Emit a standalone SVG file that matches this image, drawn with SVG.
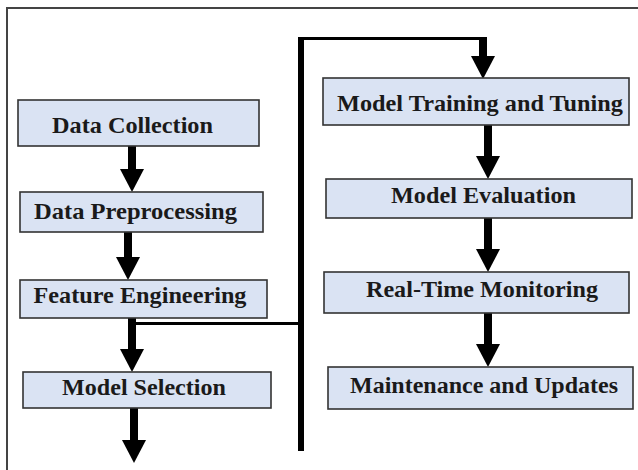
<svg xmlns="http://www.w3.org/2000/svg" width="638" height="470" viewBox="0 0 638 470">
<style>
.box{fill:#dae3f3;stroke:#333;stroke-width:1.6}
.lbl{font-family:"Liberation Serif","Times New Roman",serif;font-weight:bold;font-size:23.5px;fill:#1a1a1a;text-anchor:middle}
.shaft{stroke:#000;stroke-width:8;fill:none}
.wire{stroke:#000;fill:none}
.frame{stroke:#444;stroke-width:2;fill:none}
</style>
<defs>
<marker id="head" markerUnits="userSpaceOnUse" markerWidth="23" markerHeight="24" refX="0" refY="12" orient="auto" viewBox="0 0 23 24">
<path d="M0,0 L23,12 L0,24 Z" fill="#000"/>
</marker>
</defs>
<rect width="638" height="470" fill="#fff"/>
<path class="frame" d="M7,470 V8 H638"/>
<g id="connectors">
<line class="shaft" x1="132" y1="146" x2="132" y2="169" marker-end="url(#head)"/>
<line class="shaft" x1="128" y1="232" x2="128" y2="257" marker-end="url(#head)"/>
<line class="shaft" x1="132" y1="318" x2="132" y2="349" marker-end="url(#head)"/>
<line class="shaft" x1="134" y1="408" x2="134" y2="440" marker-end="url(#head)"/>
<line class="wire" stroke-width="3" x1="136" y1="323.5" x2="301" y2="323.5"/>
<line class="wire" stroke-width="6" x1="301" y1="37" x2="301" y2="451"/>
<line class="wire" stroke-width="3" x1="298" y1="38.5" x2="487" y2="38.5"/>
<line class="shaft" x1="483" y1="37" x2="483" y2="56" marker-end="url(#head)"/>
<line class="shaft" x1="488" y1="125" x2="488" y2="156" marker-end="url(#head)"/>
<line class="shaft" x1="488" y1="218" x2="488" y2="249" marker-end="url(#head)"/>
<line class="shaft" x1="488" y1="313" x2="488" y2="344" marker-end="url(#head)"/>
</g>
<g id="data-collection"><rect class="box" x="18" y="100" width="241" height="46"/><text class="lbl" x="132.5" y="133" textLength="161" lengthAdjust="spacingAndGlyphs">Data Collection</text></g>
<g id="data-preprocessing"><rect class="box" x="20" y="192" width="243" height="40"/><text class="lbl" x="135.5" y="219" textLength="203" lengthAdjust="spacingAndGlyphs">Data Preprocessing</text></g>
<g id="feature-engineering"><rect class="box" x="20" y="280" width="247" height="38"/><text class="lbl" x="140" y="303" textLength="213" lengthAdjust="spacingAndGlyphs">Feature Engineering</text></g>
<g id="model-selection"><rect class="box" x="23" y="372" width="248" height="36"/><text class="lbl" x="144" y="395" textLength="164" lengthAdjust="spacingAndGlyphs">Model Selection</text></g>
<g id="model-training"><rect class="box" x="323" y="78" width="306" height="47"/><text class="lbl" x="480" y="111" textLength="286" lengthAdjust="spacingAndGlyphs">Model Training and Tuning</text></g>
<g id="model-evaluation"><rect class="box" x="326" y="179" width="306" height="39"/><text class="lbl" x="483.5" y="203" textLength="185" lengthAdjust="spacingAndGlyphs">Model Evaluation</text></g>
<g id="real-time-monitoring"><rect class="box" x="324" y="272" width="305" height="41"/><text class="lbl" x="482" y="297" textLength="232" lengthAdjust="spacingAndGlyphs">Real-Time Monitoring</text></g>
<g id="maintenance"><rect class="box" x="328" y="367" width="305" height="42"/><text class="lbl" x="484" y="393" textLength="268" lengthAdjust="spacingAndGlyphs">Maintenance and Updates</text></g>
</svg>
